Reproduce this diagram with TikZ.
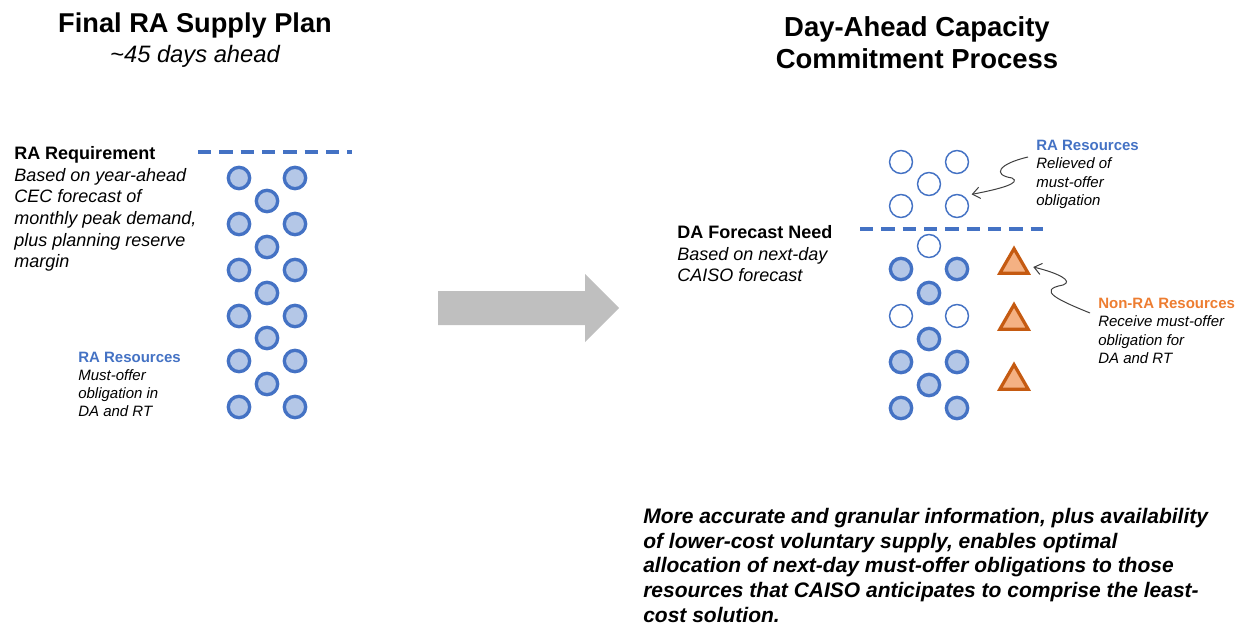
\documentclass[tikz,border=0pt]{standalone}
\usepackage{fontspec}
\setmainfont{Liberation Sans}
\usepackage{tikz}
\usetikzlibrary{arrows.meta,shapes.geometric}

\definecolor{rablue}{RGB}{68,114,196}
\definecolor{rafill}{RGB}{180,199,231}
\definecolor{nonraline}{RGB}{197,90,17}
\definecolor{nonrafill}{RGB}{244,177,131}
\definecolor{nonratext}{RGB}{237,125,49}
\definecolor{arrowgray}{RGB}{191,191,191}

\begin{document}
\begin{tikzpicture}[x=0.75pt,y=0.75pt,yscale=-1,xscale=1,
    rafull/.style={circle,draw=rablue,fill=rafill,line width=2.5pt,minimum size=16pt,inner sep=0pt},
    raopen/.style={circle,draw=rablue,fill=white,line width=1.1pt,minimum size=17.2pt,inner sep=0pt},
    nonra/.style={regular polygon,regular polygon sides=3,draw=nonraline,fill=nonrafill,line width=2.4pt,minimum size=24.5pt,inner sep=0pt},
    radash/.style={draw=rablue,line width=2.4pt,dash pattern=on 10pt off 6pt},
    callout/.style={draw=black!75,line width=0.75pt,-{Straight Barb[length=5.5pt,width=8.5pt]}},
    lbl/.style={anchor=north west,inner sep=0pt,align=left}]
        \useasboundingbox (0,0) rectangle (1241,627);

        % Titles
        \node [anchor=base,inner sep=0pt,font=\fontsize{20.4}{24}\bfseries] (lefttitle) at (195,33) {Final RA Supply Plan};
        \node [anchor=base,inner sep=0pt,font=\fontsize{17.8}{22}\itshape] (leftsub) at (195,63) {\textasciitilde 45 days ahead};
        \node [anchor=north,inner sep=0pt,align=center,font=\fontsize{20.6}{24}\bfseries] (righttitle) at (917,16) {Day-Ahead Capacity\\Commitment Process};

        %Straight Lines (forecast levels)
        \draw [radash] (198,152) -- (352,152) ;
        \draw [radash] (860,229) -- (1043,229) ;

        %Block arrow
        \fill [arrowgray] (438,291) -- (585,291) -- (585,274) -- (619,308) -- (585,342) -- (585,325) -- (438,325) -- cycle ;

        % Left column of RA resources
        \node [rafull] (l1) at (239,178) {};
        \node [rafull] (l2) at (295,178) {};
        \node [rafull] (l3) at (267,201) {};
        \node [rafull] (l4) at (239,224) {};
        \node [rafull] (l5) at (295,224) {};
        \node [rafull] (l6) at (267,247) {};
        \node [rafull] (l7) at (239,270) {};
        \node [rafull] (l8) at (295,270) {};
        \node [rafull] (l9) at (267,293) {};
        \node [rafull] (l10) at (239,316) {};
        \node [rafull] (l11) at (295,316) {};
        \node [rafull] (l12) at (267,338) {};
        \node [rafull] (l13) at (239,361) {};
        \node [rafull] (l14) at (295,361) {};
        \node [rafull] (l15) at (267,384) {};
        \node [rafull] (l16) at (239,407) {};
        \node [rafull] (l17) at (295,407) {};

        % Right column, relieved resources above the need
        \node [raopen] (r1) at (901,162) {};
        \node [raopen] (r2) at (957,162) {};
        \node [raopen] (r3) at (929,184) {};
        \node [raopen] (r4) at (901,206) {};
        \node [raopen] (r5) at (957,206) {};
        % Right column below the need
        \node [raopen] (r6) at (929,246) {};
        \node [rafull] (r7) at (901,269) {};
        \node [rafull] (r8) at (957,269) {};
        \node [rafull] (r9) at (929,293) {};
        \node [raopen] (r10) at (901,316) {};
        \node [raopen] (r11) at (957,316) {};
        \node [rafull] (r12) at (929,339) {};
        \node [rafull] (r13) at (901,362) {};
        \node [rafull] (r14) at (957,362) {};
        \node [rafull] (r15) at (929,385) {};
        \node [rafull] (r16) at (901,408) {};
        \node [rafull] (r17) at (957,408) {};

        % Non-RA resources
        \node [nonra] (t1) at (1014,265) {};
        \node [nonra] (t2) at (1014,321) {};
        \node [nonra] (t3) at (1014,381) {};

        % Text Node
        \node [lbl,font=\fontsize{13.5}{16.3}\selectfont] (req) at (14,146) {\textbf{RA Requirement}\\\textit{Based on year-ahead}\\\textit{CEC forecast of}\\\textit{monthly peak demand,}\\\textit{plus planning reserve}\\\textit{margin}};
        % Text Node
        \node [lbl,font=\fontsize{11.25}{13.5}\selectfont] (lblmust) at (78,352) {\textcolor{rablue}{\textbf{RA Resources}}\\\textit{Must-offer}\\\textit{obligation in}\\\textit{DA and RT}};
        % Text Node
        \node [lbl,font=\fontsize{13.5}{16.3}\selectfont] (need) at (677,225) {\textbf{DA Forecast Need}\\\textit{Based on next-day}\\\textit{CAISO forecast}};
        % Text Node
        \node [lbl,font=\fontsize{11.25}{13.7}\selectfont] (lblrel) at (1036,140) {\textcolor{rablue}{\textbf{RA Resources}}\\\textit{Relieved of}\\\textit{must-offer}\\\textit{obligation}};
        % Text Node
        \node [lbl,font=\fontsize{11.25}{13.7}\selectfont] (lblnonra) at (1098,298) {\textcolor{nonratext}{\textbf{Non-RA Resources}}\\\textit{Receive must-offer}\\\textit{obligation for}\\\textit{DA and RT}};
        % Text Node
        \node [lbl,font=\fontsize{15.75}{18.5}\bfseries\itshape] (summary) at (643,508) {More accurate and granular information, plus availability\\of lower-cost voluntary supply, enables optimal\\allocation of next-day must-offer obligations to those\\resources that CAISO anticipates to comprise the least-\\cost solution.};

        % Callouts
        \draw [callout] ([shift={(-8,17)}]lblrel.north west) .. controls (998,164) and (992,175) .. (1012,178) .. controls (1022,183) and (1000,189) .. ([shift={(6,-3)}]r5.north east) ;
        \draw [callout] ([shift={(-8,15)}]lblnonra.north west) .. controls (1058,300) and (1036,290) .. (1063,285) .. controls (1074,281) and (1058,273) .. ([shift={(8,2)}]t1.east) ;

\end{tikzpicture}
\end{document}
